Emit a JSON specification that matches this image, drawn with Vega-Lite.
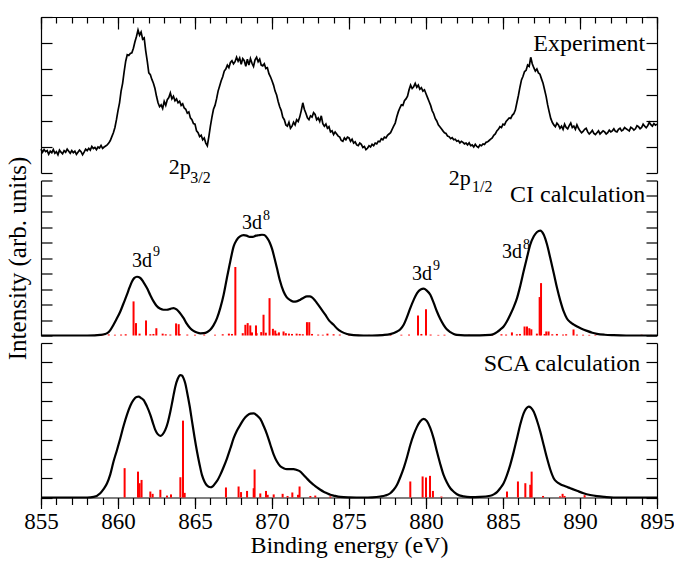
{
  "$schema": "https://vega.github.io/schema/vega-lite/v6.json",
  "background": "white",
  "padding": {"left": 5, "top": 16, "right": 5, "bottom": 2},
  "config": {
    "font": "Liberation Serif",
    "view": {"stroke": null},
    "axis": {"grid": false, "domainColor": "#000", "tickColor": "#000", "domainWidth": 1.2, "tickWidth": 1.2, "labelColor": "#000", "titleColor": "#000", "labelFont": "Liberation Serif", "titleFont": "Liberation Serif", "titleFontWeight": "normal"},
    "text": {"font": "Liberation Serif", "color": "#000"}
  },
  "bounds": "flush",
  "spacing": 7.5,
  "datasets": {
    "exp": [
      {"E":855.0,"I":0.92},{"E":855.1,"I":0.80},{"E":855.2,"I":0.90},{"E":855.3,"I":0.82},{"E":855.4,"I":0.86},
      {"E":855.5,"I":0.72},{"E":855.6,"I":0.84},{"E":855.7,"I":0.78},{"E":855.8,"I":0.90},{"E":855.9,"I":0.76},
      {"E":856.0,"I":0.82},{"E":856.1,"I":0.70},{"E":856.2,"I":0.88},{"E":856.3,"I":0.80},{"E":856.4,"I":0.74},
      {"E":856.5,"I":0.86},{"E":856.6,"I":0.80},{"E":856.7,"I":0.92},{"E":856.8,"I":0.84},{"E":856.9,"I":0.76},
      {"E":857.0,"I":0.86},{"E":857.1,"I":0.78},{"E":857.2,"I":0.84},{"E":857.3,"I":0.72},{"E":857.4,"I":0.80},
      {"E":857.5,"I":0.88},{"E":857.6,"I":0.82},{"E":857.7,"I":0.70},{"E":857.8,"I":0.80},{"E":857.9,"I":0.92},
      {"E":858.0,"I":0.86},{"E":858.1,"I":0.95},{"E":858.2,"I":0.88},{"E":858.3,"I":1.02},{"E":858.4,"I":0.94},
      {"E":858.5,"I":0.98},{"E":858.6,"I":0.90},{"E":858.7,"I":1.00},{"E":858.8,"I":0.96},{"E":858.9,"I":1.06},
      {"E":859.0,"I":0.95},{"E":859.1,"I":1.00},{"E":859.2,"I":1.04},{"E":859.3,"I":1.08},{"E":859.4,"I":1.15},
      {"E":859.5,"I":1.25},{"E":859.6,"I":1.40},{"E":859.7,"I":1.55},{"E":859.8,"I":1.75},{"E":859.9,"I":2.05},
      {"E":860.0,"I":2.40},{"E":860.1,"I":2.70},{"E":860.2,"I":3.15},{"E":860.3,"I":3.45},{"E":860.4,"I":3.90},
      {"E":860.5,"I":4.30},{"E":860.6,"I":4.55},{"E":860.7,"I":4.52},{"E":860.8,"I":4.60},{"E":860.9,"I":4.62},
      {"E":861.0,"I":4.80},{"E":861.1,"I":5.05},{"E":861.2,"I":5.25},{"E":861.3,"I":5.50},{"E":861.4,"I":5.30},
      {"E":861.5,"I":5.42},{"E":861.6,"I":5.15},{"E":861.7,"I":5.20},{"E":861.8,"I":4.70},{"E":861.9,"I":4.30},
      {"E":862.0,"I":3.85},{"E":862.1,"I":3.78},{"E":862.2,"I":3.60},{"E":862.3,"I":3.45},{"E":862.4,"I":3.25},
      {"E":862.5,"I":2.95},{"E":862.6,"I":2.70},{"E":862.7,"I":2.55},{"E":862.8,"I":2.62},{"E":862.9,"I":2.48},
      {"E":863.0,"I":2.75},{"E":863.1,"I":2.60},{"E":863.2,"I":2.82},{"E":863.3,"I":2.90},{"E":863.4,"I":3.08},
      {"E":863.5,"I":2.85},{"E":863.6,"I":2.95},{"E":863.7,"I":2.78},{"E":863.8,"I":2.85},{"E":863.9,"I":2.70},
      {"E":864.0,"I":2.76},{"E":864.1,"I":2.60},{"E":864.2,"I":2.66},{"E":864.3,"I":2.50},{"E":864.4,"I":2.45},
      {"E":864.5,"I":2.30},{"E":864.6,"I":2.35},{"E":864.7,"I":2.12},{"E":864.8,"I":2.05},{"E":864.9,"I":1.90},
      {"E":865.0,"I":1.88},{"E":865.1,"I":1.62},{"E":865.2,"I":1.55},{"E":865.3,"I":1.40},{"E":865.4,"I":1.45},
      {"E":865.5,"I":1.28},{"E":865.6,"I":1.35},{"E":865.7,"I":1.15},{"E":865.8,"I":1.05},{"E":865.9,"I":1.40},
      {"E":866.0,"I":1.80},{"E":866.1,"I":2.15},{"E":866.2,"I":2.45},{"E":866.3,"I":2.60},{"E":866.4,"I":2.85},
      {"E":866.5,"I":3.15},{"E":866.6,"I":3.35},{"E":866.7,"I":3.55},{"E":866.8,"I":3.70},{"E":866.9,"I":3.92},
      {"E":867.0,"I":4.00},{"E":867.1,"I":4.15},{"E":867.2,"I":4.05},{"E":867.3,"I":4.25},{"E":867.4,"I":4.32},
      {"E":867.5,"I":4.20},{"E":867.6,"I":4.28},{"E":867.7,"I":4.45},{"E":867.8,"I":4.30},{"E":867.9,"I":4.42},
      {"E":868.0,"I":4.18},{"E":868.1,"I":4.40},{"E":868.2,"I":4.32},{"E":868.3,"I":4.10},{"E":868.4,"I":4.38},
      {"E":868.5,"I":4.15},{"E":868.6,"I":4.40},{"E":868.7,"I":4.22},{"E":868.8,"I":4.10},{"E":868.9,"I":4.35},
      {"E":869.0,"I":4.45},{"E":869.1,"I":4.28},{"E":869.2,"I":4.38},{"E":869.3,"I":4.15},{"E":869.4,"I":4.12},
      {"E":869.5,"I":4.20},{"E":869.6,"I":4.02},{"E":869.7,"I":4.05},{"E":869.8,"I":3.82},{"E":869.9,"I":3.70},
      {"E":870.0,"I":3.55},{"E":870.1,"I":3.38},{"E":870.2,"I":3.15},{"E":870.3,"I":3.00},{"E":870.4,"I":2.75},
      {"E":870.5,"I":2.55},{"E":870.6,"I":2.40},{"E":870.7,"I":2.15},{"E":870.8,"I":2.05},{"E":870.9,"I":1.85},
      {"E":871.0,"I":1.80},{"E":871.1,"I":1.95},{"E":871.2,"I":1.72},{"E":871.3,"I":1.80},{"E":871.4,"I":1.95},
      {"E":871.5,"I":1.85},{"E":871.6,"I":2.05},{"E":871.7,"I":1.98},{"E":871.8,"I":2.15},{"E":871.9,"I":2.40},
      {"E":872.0,"I":2.70},{"E":872.1,"I":2.45},{"E":872.2,"I":2.30},{"E":872.3,"I":2.12},{"E":872.4,"I":2.05},
      {"E":872.5,"I":2.20},{"E":872.6,"I":2.15},{"E":872.7,"I":2.32},{"E":872.8,"I":2.25},{"E":872.9,"I":2.05},
      {"E":873.0,"I":2.12},{"E":873.1,"I":1.98},{"E":873.2,"I":2.20},{"E":873.3,"I":1.90},{"E":873.4,"I":1.80},
      {"E":873.5,"I":1.88},{"E":873.6,"I":1.72},{"E":873.7,"I":1.78},{"E":873.8,"I":1.58},{"E":873.9,"I":1.62},
      {"E":874.0,"I":1.48},{"E":874.1,"I":1.58},{"E":874.2,"I":1.50},{"E":874.3,"I":1.42},{"E":874.4,"I":1.38},
      {"E":874.5,"I":1.25},{"E":874.6,"I":1.22},{"E":874.7,"I":1.35},{"E":874.8,"I":1.28},{"E":874.9,"I":1.38},
      {"E":875.0,"I":1.35},{"E":875.1,"I":1.22},{"E":875.2,"I":1.30},{"E":875.3,"I":1.15},{"E":875.4,"I":1.20},
      {"E":875.5,"I":1.08},{"E":875.6,"I":1.05},{"E":875.7,"I":1.15},{"E":875.8,"I":1.10},{"E":875.9,"I":0.98},
      {"E":876.0,"I":1.02},{"E":876.1,"I":0.90},{"E":876.2,"I":0.95},{"E":876.3,"I":1.05},{"E":876.4,"I":1.00},
      {"E":876.5,"I":1.10},{"E":876.6,"I":1.05},{"E":876.7,"I":1.15},{"E":876.8,"I":1.12},{"E":876.9,"I":1.22},
      {"E":877.0,"I":1.20},{"E":877.1,"I":1.32},{"E":877.2,"I":1.28},{"E":877.3,"I":1.38},{"E":877.4,"I":1.35},
      {"E":877.5,"I":1.45},{"E":877.6,"I":1.50},{"E":877.7,"I":1.55},{"E":877.8,"I":1.68},{"E":877.9,"I":1.80},
      {"E":878.0,"I":1.92},{"E":878.1,"I":2.15},{"E":878.2,"I":2.35},{"E":878.3,"I":2.50},{"E":878.4,"I":2.62},
      {"E":878.5,"I":2.60},{"E":878.6,"I":2.78},{"E":878.7,"I":2.85},{"E":878.8,"I":2.95},{"E":878.9,"I":3.20},
      {"E":879.0,"I":3.38},{"E":879.1,"I":3.25},{"E":879.2,"I":3.32},{"E":879.3,"I":3.45},{"E":879.4,"I":3.30},
      {"E":879.5,"I":3.38},{"E":879.6,"I":3.22},{"E":879.7,"I":3.28},{"E":879.8,"I":3.15},{"E":879.9,"I":3.20},
      {"E":880.0,"I":3.05},{"E":880.1,"I":2.90},{"E":880.2,"I":2.75},{"E":880.3,"I":2.60},{"E":880.4,"I":2.40},
      {"E":880.5,"I":2.28},{"E":880.6,"I":2.10},{"E":880.7,"I":2.00},{"E":880.8,"I":1.85},{"E":880.9,"I":1.78},
      {"E":881.0,"I":1.70},{"E":881.1,"I":1.62},{"E":881.2,"I":1.55},{"E":881.3,"I":1.52},{"E":881.4,"I":1.42},
      {"E":881.5,"I":1.40},{"E":881.6,"I":1.32},{"E":881.7,"I":1.36},{"E":881.8,"I":1.28},{"E":881.9,"I":1.30},
      {"E":882.0,"I":1.22},{"E":882.1,"I":1.25},{"E":882.2,"I":1.16},{"E":882.3,"I":1.22},{"E":882.4,"I":1.18},
      {"E":882.5,"I":1.12},{"E":882.6,"I":1.15},{"E":882.7,"I":1.08},{"E":882.8,"I":1.16},{"E":882.9,"I":1.05},
      {"E":883.0,"I":1.08},{"E":883.1,"I":1.00},{"E":883.2,"I":1.10},{"E":883.3,"I":1.02},{"E":883.4,"I":0.98},
      {"E":883.5,"I":1.08},{"E":883.6,"I":1.05},{"E":883.7,"I":1.12},{"E":883.8,"I":1.10},{"E":883.9,"I":1.18},
      {"E":884.0,"I":1.20},{"E":884.1,"I":1.25},{"E":884.2,"I":1.30},{"E":884.3,"I":1.35},{"E":884.4,"I":1.45},
      {"E":884.5,"I":1.50},{"E":884.6,"I":1.62},{"E":884.7,"I":1.68},{"E":884.8,"I":1.78},{"E":884.9,"I":1.75},
      {"E":885.0,"I":1.88},{"E":885.1,"I":1.85},{"E":885.2,"I":1.98},{"E":885.3,"I":2.05},{"E":885.4,"I":2.12},
      {"E":885.5,"I":2.10},{"E":885.6,"I":2.22},{"E":885.7,"I":2.28},{"E":885.8,"I":2.42},{"E":885.9,"I":2.70},
      {"E":886.0,"I":2.98},{"E":886.1,"I":3.30},{"E":886.2,"I":3.58},{"E":886.3,"I":3.72},{"E":886.4,"I":3.90},
      {"E":886.5,"I":3.95},{"E":886.6,"I":4.15},{"E":886.7,"I":4.10},{"E":886.8,"I":4.45},{"E":886.9,"I":4.20},
      {"E":887.0,"I":4.05},{"E":887.1,"I":3.92},{"E":887.2,"I":4.00},{"E":887.3,"I":3.85},{"E":887.4,"I":3.80},
      {"E":887.5,"I":3.62},{"E":887.6,"I":3.45},{"E":887.7,"I":3.20},{"E":887.8,"I":2.95},{"E":887.9,"I":2.62},
      {"E":888.0,"I":2.35},{"E":888.1,"I":2.10},{"E":888.2,"I":1.95},{"E":888.3,"I":1.85},{"E":888.4,"I":1.78},
      {"E":888.5,"I":1.92},{"E":888.6,"I":1.85},{"E":888.7,"I":1.72},{"E":888.8,"I":1.80},{"E":888.9,"I":1.68},
      {"E":889.0,"I":1.88},{"E":889.1,"I":1.75},{"E":889.2,"I":1.70},{"E":889.3,"I":1.82},{"E":889.4,"I":1.92},
      {"E":889.5,"I":1.75},{"E":889.6,"I":1.80},{"E":889.7,"I":1.68},{"E":889.8,"I":1.85},{"E":889.9,"I":1.72},
      {"E":890.0,"I":1.62},{"E":890.1,"I":1.55},{"E":890.2,"I":1.60},{"E":890.3,"I":1.68},{"E":890.4,"I":1.72},
      {"E":890.5,"I":1.58},{"E":890.6,"I":1.50},{"E":890.7,"I":1.56},{"E":890.8,"I":1.64},{"E":890.9,"I":1.52},
      {"E":891.0,"I":1.48},{"E":891.1,"I":1.55},{"E":891.2,"I":1.62},{"E":891.3,"I":1.50},{"E":891.4,"I":1.56},
      {"E":891.5,"I":1.62},{"E":891.6,"I":1.58},{"E":891.7,"I":1.50},{"E":891.8,"I":1.55},{"E":891.9,"I":1.65},
      {"E":892.0,"I":1.58},{"E":892.1,"I":1.62},{"E":892.2,"I":1.70},{"E":892.3,"I":1.60},{"E":892.4,"I":1.58},
      {"E":892.5,"I":1.68},{"E":892.6,"I":1.72},{"E":892.7,"I":1.62},{"E":892.8,"I":1.66},{"E":892.9,"I":1.75},
      {"E":893.0,"I":1.70},{"E":893.1,"I":1.66},{"E":893.2,"I":1.62},{"E":893.3,"I":1.76},{"E":893.4,"I":1.72},
      {"E":893.5,"I":1.65},{"E":893.6,"I":1.70},{"E":893.7,"I":1.82},{"E":893.8,"I":1.78},{"E":893.9,"I":1.70},
      {"E":894.0,"I":1.75},{"E":894.1,"I":1.88},{"E":894.2,"I":1.80},{"E":894.3,"I":1.74},{"E":894.4,"I":1.82},
      {"E":894.5,"I":1.95},{"E":894.6,"I":1.86},{"E":894.7,"I":1.80},{"E":894.8,"I":1.90},{"E":894.9,"I":1.84},
      {"E":895.0,"I":1.88}
    ],
    "ci": [
      {"E":855.0,"I":0},{"E":856.0,"I":0},{"E":857.0,"I":0},{"E":858.0,"I":0},{"E":858.5,"I":0.01},
      {"E":858.85,"I":0.04},{"E":859.1,"I":0.08},{"E":859.3,"I":0.15},{"E":859.5,"I":0.35},{"E":859.7,"I":0.68},
      {"E":859.9,"I":1.05},{"E":860.15,"I":1.55},{"E":860.35,"I":2.05},{"E":860.58,"I":2.63},{"E":860.75,"I":3.10},
      {"E":860.91,"I":3.49},{"E":861.05,"I":3.70},{"E":861.23,"I":3.79},{"E":861.45,"I":3.71},{"E":861.65,"I":3.45},
      {"E":861.88,"I":3.06},{"E":862.1,"I":2.60},{"E":862.31,"I":2.20},{"E":862.5,"I":1.92},{"E":862.75,"I":1.72},
      {"E":862.95,"I":1.66},{"E":863.18,"I":1.66},{"E":863.4,"I":1.72},{"E":863.61,"I":1.77},{"E":863.8,"I":1.68},
      {"E":863.94,"I":1.55},{"E":864.1,"I":1.35},{"E":864.26,"I":1.12},{"E":864.45,"I":0.78},{"E":864.69,"I":0.47},
      {"E":864.9,"I":0.30},{"E":865.13,"I":0.19},{"E":865.35,"I":0.14},{"E":865.56,"I":0.15},{"E":865.8,"I":0.23},
      {"E":865.99,"I":0.37},{"E":866.2,"I":0.65},{"E":866.43,"I":1.12},{"E":866.65,"I":1.80},{"E":866.86,"I":2.63},
      {"E":867.05,"I":3.60},{"E":867.29,"I":4.78},{"E":867.51,"I":5.75},{"E":867.7,"I":6.15},{"E":867.9,"I":6.38},
      {"E":868.16,"I":6.47},{"E":868.35,"I":6.44},{"E":868.55,"I":6.36},{"E":868.75,"I":6.36},{"E":868.95,"I":6.44},
      {"E":869.13,"I":6.47},{"E":869.35,"I":6.50},{"E":869.5,"I":6.48},{"E":869.68,"I":6.30},{"E":869.85,"I":6.00},
      {"E":870.0,"I":5.60},{"E":870.16,"I":5.00},{"E":870.32,"I":4.35},{"E":870.5,"I":3.60},{"E":870.75,"I":2.84},
      {"E":870.95,"I":2.48},{"E":871.19,"I":2.28},{"E":871.4,"I":2.18},{"E":871.6,"I":2.20},{"E":871.84,"I":2.31},
      {"E":872.05,"I":2.44},{"E":872.27,"I":2.52},{"E":872.45,"I":2.52},{"E":872.6,"I":2.46},{"E":872.8,"I":2.25},
      {"E":872.92,"I":2.09},{"E":873.2,"I":1.70},{"E":873.46,"I":1.34},{"E":873.7,"I":0.98},{"E":874.0,"I":0.69},
      {"E":874.22,"I":0.45},{"E":874.5,"I":0.25},{"E":874.87,"I":0.10},{"E":875.3,"I":0.03},{"E":875.95,"I":0},
      {"E":876.5,"I":0},{"E":877.2,"I":0.03},{"E":877.68,"I":0.09},{"E":878.12,"I":0.26},{"E":878.35,"I":0.42},
      {"E":878.55,"I":0.69},{"E":878.75,"I":1.15},{"E":878.98,"I":1.77},{"E":879.2,"I":2.30},{"E":879.42,"I":2.74},
      {"E":879.65,"I":2.97},{"E":879.85,"I":3.02},{"E":880.05,"I":2.90},{"E":880.28,"I":2.63},{"E":880.5,"I":2.10},
      {"E":880.71,"I":1.55},{"E":880.92,"I":1.08},{"E":881.14,"I":0.69},{"E":881.35,"I":0.40},{"E":881.58,"I":0.22},
      {"E":881.8,"I":0.10},{"E":882.01,"I":0.04},{"E":882.5,"I":0.01},{"E":883.5,"I":0.01},{"E":884.18,"I":0.04},
      {"E":884.4,"I":0.10},{"E":884.61,"I":0.22},{"E":884.82,"I":0.38},{"E":885.04,"I":0.58},{"E":885.25,"I":0.90},
      {"E":885.47,"I":1.34},{"E":885.7,"I":1.85},{"E":885.91,"I":2.41},{"E":886.12,"I":3.20},{"E":886.34,"I":4.14},
      {"E":886.55,"I":5.00},{"E":886.77,"I":5.86},{"E":887.0,"I":6.40},{"E":887.21,"I":6.68},{"E":887.42,"I":6.77},
      {"E":887.64,"I":6.51},{"E":887.85,"I":5.90},{"E":888.07,"I":5.00},{"E":888.3,"I":4.00},{"E":888.51,"I":3.06},
      {"E":888.72,"I":2.25},{"E":888.94,"I":1.55},{"E":889.15,"I":1.10},{"E":889.37,"I":0.86},{"E":889.6,"I":0.70},
      {"E":889.81,"I":0.58},{"E":890.1,"I":0.44},{"E":890.45,"I":0.30},{"E":890.8,"I":0.18},{"E":891.1,"I":0.11},
      {"E":891.6,"I":0.05},{"E":892.18,"I":0.02},{"E":893.0,"I":0},{"E":895.0,"I":0}
    ],
    "cis": [
      {"E":861.01,"h":2.20},{"E":861.17,"h":0.80},{"E":861.82,"h":0.97},{"E":862.49,"h":0.47},{"E":863.77,"h":0.78},
      {"E":863.94,"h":0.73},{"E":867.62,"h":4.42},{"E":868.27,"h":0.69},{"E":868.42,"h":0.80},{"E":868.59,"h":0.65},
      {"E":868.96,"h":0.65},{"E":869.30,"h":0.22},{"E":869.45,"h":1.34},{"E":869.84,"h":2.41},{"E":870.06,"h":0.43},
      {"E":870.21,"h":0.32},{"E":870.45,"h":0.20},{"E":870.75,"h":0.26},{"E":872.27,"h":0.86},{"E":872.42,"h":0.86},
      {"E":879.48,"h":1.29},{"E":880.00,"h":1.70},{"E":885.58,"h":0.20},{"E":886.40,"h":0.58},{"E":886.56,"h":0.58},
      {"E":886.71,"h":0.47},{"E":886.84,"h":0.40},{"E":887.38,"h":2.48},{"E":887.47,"h":3.38},{"E":887.81,"h":0.26},
      {"E":887.96,"h":0.26},{"E":889.58,"h":0.39},
      {"E":858.6,"h":0.06},{"E":859.0,"h":0.05},{"E":859.4,"h":0.07},{"E":859.8,"h":0.05},{"E":860.2,"h":0.06},
      {"E":860.5,"h":0.08},{"E":861.4,"h":0.12},{"E":862.1,"h":0.08},{"E":862.3,"h":0.10},{"E":862.9,"h":0.12},
      {"E":863.1,"h":0.08},{"E":863.4,"h":0.06},{"E":864.0,"h":0.10},{"E":864.5,"h":0.06},{"E":865.0,"h":0.05},
      {"E":865.6,"h":0.06},{"E":866.3,"h":0.05},{"E":866.8,"h":0.08},{"E":867.2,"h":0.12},{"E":867.4,"h":0.10},
      {"E":868.1,"h":0.15},{"E":868.7,"h":0.20},{"E":869.0,"h":0.15},{"E":869.6,"h":0.18},{"E":870.3,"h":0.12},
      {"E":870.9,"h":0.15},{"E":871.1,"h":0.12},{"E":871.3,"h":0.10},{"E":871.6,"h":0.12},{"E":871.8,"h":0.10},
      {"E":872.0,"h":0.08},{"E":872.6,"h":0.10},{"E":873.0,"h":0.06},{"E":873.3,"h":0.05},{"E":873.6,"h":0.12},
      {"E":874.0,"h":0.08},{"E":874.4,"h":0.06},{"E":875.0,"h":0.04},{"E":875.6,"h":0.05},{"E":876.3,"h":0.04},
      {"E":877.0,"h":0.05},{"E":877.7,"h":0.04},{"E":878.4,"h":0.05},{"E":878.9,"h":0.06},{"E":879.7,"h":0.10},
      {"E":880.3,"h":0.06},{"E":880.8,"h":0.04},{"E":881.2,"h":0.05},{"E":882.0,"h":0.04},{"E":882.8,"h":0.05},
      {"E":883.6,"h":0.04},{"E":884.3,"h":0.05},{"E":884.9,"h":0.08},{"E":885.2,"h":0.06},{"E":885.9,"h":0.08},
      {"E":886.1,"h":0.10},{"E":887.2,"h":0.12},{"E":887.7,"h":0.10},{"E":888.2,"h":0.08},{"E":888.5,"h":0.10},
      {"E":888.9,"h":0.06},{"E":889.1,"h":0.08},{"E":889.8,"h":0.06},{"E":890.2,"h":0.05},{"E":890.6,"h":0.04},
      {"E":891.0,"h":0.05},{"E":892.5,"h":0.04},{"E":894.0,"h":0.05},{"E":894.6,"h":0.04}
    ],
    "sca": [
      {"E":855.0,"I":0},{"E":857.0,"I":0},{"E":858.0,"I":0},{"E":858.42,"I":0.03},{"E":858.85,"I":0.22},
      {"E":859.05,"I":0.42},{"E":859.29,"I":0.74},{"E":859.5,"I":1.20},{"E":859.71,"I":1.86},{"E":859.93,"I":2.45},
      {"E":860.15,"I":3.07},{"E":860.36,"I":3.70},{"E":860.58,"I":4.28},{"E":860.8,"I":4.75},{"E":861.01,"I":5.05},
      {"E":861.2,"I":5.20},{"E":861.34,"I":5.22},{"E":861.5,"I":5.15},{"E":861.66,"I":5.05},{"E":861.88,"I":4.72},
      {"E":862.1,"I":4.28},{"E":862.26,"I":3.88},{"E":862.42,"I":3.50},{"E":862.58,"I":3.28},{"E":862.75,"I":3.19},
      {"E":862.9,"I":3.27},{"E":863.07,"I":3.50},{"E":863.24,"I":3.90},{"E":863.4,"I":4.45},{"E":863.56,"I":5.10},
      {"E":863.72,"I":5.74},{"E":863.88,"I":6.15},{"E":864.05,"I":6.34},{"E":864.15,"I":6.32},{"E":864.26,"I":6.17},
      {"E":864.37,"I":5.90},{"E":864.48,"I":5.48},{"E":864.65,"I":4.75},{"E":864.81,"I":3.93},{"E":864.97,"I":3.12},
      {"E":865.13,"I":2.38},{"E":865.3,"I":1.70},{"E":865.45,"I":1.17},{"E":865.62,"I":0.82},{"E":865.78,"I":0.62},
      {"E":865.99,"I":0.53},{"E":866.15,"I":0.58},{"E":866.32,"I":0.74},{"E":866.48,"I":0.92},{"E":866.64,"I":1.17},
      {"E":866.86,"I":1.58},{"E":867.08,"I":2.03},{"E":867.3,"I":2.55},{"E":867.51,"I":3.07},{"E":867.72,"I":3.46},
      {"E":867.94,"I":3.76},{"E":868.16,"I":4.05},{"E":868.38,"I":4.24},{"E":868.6,"I":4.34},{"E":868.81,"I":4.36},
      {"E":869.02,"I":4.25},{"E":869.24,"I":4.07},{"E":869.46,"I":3.70},{"E":869.68,"I":3.26},{"E":869.9,"I":2.72},
      {"E":870.11,"I":2.22},{"E":870.32,"I":1.86},{"E":870.54,"I":1.62},{"E":870.75,"I":1.52},{"E":870.97,"I":1.47},
      {"E":871.2,"I":1.47},{"E":871.4,"I":1.47},{"E":871.62,"I":1.42},{"E":871.84,"I":1.34},{"E":872.05,"I":1.17},
      {"E":872.27,"I":0.98},{"E":872.48,"I":0.81},{"E":872.7,"I":0.66},{"E":872.92,"I":0.52},{"E":873.14,"I":0.40},
      {"E":873.35,"I":0.30},{"E":873.57,"I":0.22},{"E":873.79,"I":0.14},{"E":874.0,"I":0.10},{"E":874.44,"I":0.03},
      {"E":875.0,"I":0.01},{"E":875.95,"I":0},{"E":876.5,"I":0.01},{"E":877.03,"I":0.05},{"E":877.35,"I":0.10},
      {"E":877.68,"I":0.22},{"E":877.9,"I":0.40},{"E":878.12,"I":0.66},{"E":878.33,"I":1.05},{"E":878.55,"I":1.52},
      {"E":878.77,"I":2.10},{"E":878.98,"I":2.72},{"E":879.2,"I":3.25},{"E":879.42,"I":3.67},{"E":879.63,"I":3.95},
      {"E":879.85,"I":4.07},{"E":880.06,"I":3.95},{"E":880.28,"I":3.59},{"E":880.5,"I":3.05},{"E":880.71,"I":2.38},
      {"E":880.92,"I":1.75},{"E":881.14,"I":1.17},{"E":881.36,"I":0.78},{"E":881.58,"I":0.48},{"E":881.8,"I":0.30},
      {"E":882.01,"I":0.17},{"E":882.44,"I":0.06},{"E":882.87,"I":0.02},{"E":883.5,"I":0.03},{"E":884.18,"I":0.09},
      {"E":884.4,"I":0.16},{"E":884.61,"I":0.28},{"E":884.82,"I":0.48},{"E":885.04,"I":0.74},{"E":885.25,"I":1.15},
      {"E":885.47,"I":1.69},{"E":885.69,"I":2.35},{"E":885.91,"I":3.07},{"E":886.12,"I":3.78},{"E":886.34,"I":4.36},
      {"E":886.5,"I":4.60},{"E":886.66,"I":4.71},{"E":886.82,"I":4.65},{"E":886.99,"I":4.45},{"E":887.2,"I":4.00},
      {"E":887.42,"I":3.41},{"E":887.64,"I":2.72},{"E":887.86,"I":2.03},{"E":888.07,"I":1.45},{"E":888.29,"I":1.00},
      {"E":888.5,"I":0.80},{"E":888.72,"I":0.69},{"E":889.04,"I":0.58},{"E":889.37,"I":0.48},{"E":889.8,"I":0.35},
      {"E":890.23,"I":0.22},{"E":890.66,"I":0.13},{"E":891.1,"I":0.07},{"E":891.6,"I":0.03},{"E":892.18,"I":0},
      {"E":895.0,"I":0}
    ],
    "scas": [
      {"E":860.43,"h":1.52},{"E":861.30,"h":1.34},{"E":861.40,"h":0.74},{"E":861.53,"h":0.91},{"E":862.10,"h":0.31},
      {"E":862.25,"h":0.19},{"E":862.75,"h":0.40},{"E":863.18,"h":0.10},{"E":863.44,"h":0.16},{"E":864.05,"h":1.05},
      {"E":864.22,"h":3.98},{"E":864.33,"h":0.24},{"E":867.01,"h":0.52},{"E":867.83,"h":0.57},{"E":867.99,"h":0.28},
      {"E":868.38,"h":0.34},{"E":868.81,"h":0.48},{"E":868.87,"h":1.45},{"E":869.24,"h":0.21},{"E":869.61,"h":0.34},
      {"E":869.72,"h":0.14},{"E":870.11,"h":0.16},{"E":870.69,"h":0.19},{"E":871.01,"h":0.08},{"E":871.32,"h":0.26},
      {"E":871.69,"h":0.14},{"E":871.79,"h":0.57},{"E":872.49,"h":0.08},{"E":872.81,"h":0.10},{"E":873.79,"h":0.06},
      {"E":874.3,"h":0.04},{"E":878.98,"h":0.83},{"E":879.78,"h":1.09},{"E":880.00,"h":1.03},{"E":880.26,"h":1.12},
      {"E":880.45,"h":0.34},{"E":881.0,"h":0.05},{"E":885.26,"h":0.31},{"E":885.97,"h":0.83},{"E":886.45,"h":0.74},
      {"E":886.77,"h":0.66},{"E":886.86,"h":1.34},{"E":887.6,"h":0.08},{"E":888.7,"h":0.06},{"E":888.87,"h":0.19},
      {"E":889.0,"h":0.08},{"E":890.3,"h":0.12}
    ]
  },
  "vconcat": [
    {
      "width": 616,
      "height": 156,
      "layer": [
        {
          "data": {"name": "exp"},
          "mark": {"type": "line", "color": "#000", "strokeWidth": 1.7},
          "encoding": {
            "x": {"field": "E", "type": "quantitative", "scale": {"domain": [855, 895], "nice": false, "zero": false},
              "axis": {"orient": "top", "values": [855, 860, 865, 870, 875, 880, 885, 890, 895], "tickSize": -12, "labels": false, "title": null}},
            "y": {"field": "I", "type": "quantitative", "scale": {"domain": [0, 6], "nice": false, "zero": false},
              "axis": {"orient": "left", "values": [0, 1, 2, 3, 4, 5, 6], "tickSize": -11, "labels": false, "title": null}}
          }
        },
        {
          "data": {"values": [{"E": 894.24, "y": 4.69, "t": "Experiment"}]},
          "mark": {"type": "text", "align": "right", "baseline": "alphabetic", "fontSize": 24},
          "encoding": {
            "x": {"field": "E", "type": "quantitative", "scale": {"domain": [855, 895], "nice": false, "zero": false},
              "axis": {"orient": "top", "values": [855,856,857,858,859,860,861,862,863,864,865,866,867,868,869,870,871,872,873,874,875,876,877,878,879,880,881,882,883,884,885,886,887,888,889,890,891,892,893,894,895], "tickSize": -6, "labels": false, "domain": false, "title": null}},
            "y": {"field": "y", "type": "quantitative", "scale": {"domain": [0, 6], "nice": false, "zero": false},
              "axis": {"orient": "right", "values": [0, 1, 2, 3, 4, 5, 6], "tickSize": -11, "labels": false, "title": null}},
            "text": {"field": "t"}
          }
        },
        {
          "data": {"values": [{"E": 863.29, "y": -0.04, "t": "2p"}, {"E": 881.47, "y": -0.46, "t": "2p"}]},
          "mark": {"type": "text", "align": "left", "baseline": "alphabetic", "fontSize": 22},
          "encoding": {
            "x": {"field": "E", "type": "quantitative", "axis": null},
            "y": {"field": "y", "type": "quantitative", "axis": null},
            "text": {"field": "t"}
          }
        },
        {
          "data": {"values": [{"E": 864.69, "y": -0.37, "t": "3/2"}, {"E": 882.99, "y": -0.73, "t": "1/2"}]},
          "mark": {"type": "text", "align": "left", "baseline": "alphabetic", "fontSize": 16},
          "encoding": {
            "x": {"field": "E", "type": "quantitative", "axis": null},
            "y": {"field": "y", "type": "quantitative", "axis": null},
            "text": {"field": "t"}
          }
        }
      ],
      "resolve": {"axis": {"x": "independent", "y": "independent"}}
    },
    {
      "width": 616,
      "height": 155,
      "layer": [
        {
          "data": {"name": "cis"},
          "mark": {"type": "rule", "color": "#ff0000", "strokeWidth": 2},
          "encoding": {
            "x": {"field": "E", "type": "quantitative", "scale": {"domain": [855, 895], "nice": false, "zero": false}, "axis": null},
            "y": {"field": "h", "type": "quantitative", "scale": {"domain": [0, 10], "nice": false, "zero": false}, "axis": null},
            "y2": {"datum": 0}
          }
        },
        {
          "data": {"name": "ci"},
          "mark": {"type": "line", "color": "#000", "strokeWidth": 2.2, "interpolate": "monotone"},
          "encoding": {
            "x": {"field": "E", "type": "quantitative", "axis": null},
            "y": {"field": "I", "type": "quantitative",
              "axis": {"orient": "left", "values": [0,1,2,3,4,5,6,7,8,9,10], "tickSize": -11, "labels": false, "title": "Intensity (arb. units)", "titleFontSize": 25, "titlePadding": 10}}
          }
        },
        {
          "data": {"values": [{"E": 894.24, "y": 8.6, "t": "CI calculation"}]},
          "mark": {"type": "text", "align": "right", "baseline": "alphabetic", "fontSize": 24},
          "encoding": {
            "x": {"field": "E", "type": "quantitative", "axis": null},
            "y": {"field": "y", "type": "quantitative",
              "axis": {"orient": "right", "values": [0,1,2,3,4,5,6,7,8,9,10], "tickSize": -11, "labels": false, "title": null}},
            "text": {"field": "t"}
          }
        },
        {
          "data": {"values": [{"E": 860.91, "y": 4.41, "t": "3d"}, {"E": 868.05, "y": 6.87, "t": "3d"}, {"E": 879.09, "y": 3.60, "t": "3d"}, {"E": 884.94, "y": 5.0, "t": "3d"}]},
          "mark": {"type": "text", "align": "left", "baseline": "alphabetic", "fontSize": 20},
          "encoding": {
            "x": {"field": "E", "type": "quantitative", "axis": null},
            "y": {"field": "y", "type": "quantitative", "axis": null},
            "text": {"field": "t"}
          }
        },
        {
          "data": {"values": [{"E": 862.27, "y": 5.11, "t": "9"}, {"E": 869.42, "y": 7.43, "t": "8"}, {"E": 880.45, "y": 4.25, "t": "9"}, {"E": 886.30, "y": 5.60, "t": "8"}]},
          "mark": {"type": "text", "align": "left", "baseline": "alphabetic", "fontSize": 14},
          "encoding": {
            "x": {"field": "E", "type": "quantitative", "axis": null},
            "y": {"field": "y", "type": "quantitative", "axis": null},
            "text": {"field": "t"}
          }
        }
      ],
      "resolve": {"axis": {"x": "independent", "y": "independent"}}
    },
    {
      "width": 616,
      "height": 154.5,
      "layer": [
        {
          "data": {"name": "scas"},
          "mark": {"type": "rule", "color": "#ff0000", "strokeWidth": 2},
          "encoding": {
            "x": {"field": "E", "type": "quantitative", "scale": {"domain": [855, 895], "nice": false, "zero": false}, "axis": null},
            "y": {"field": "h", "type": "quantitative", "scale": {"domain": [0, 8], "nice": false, "zero": false}, "axis": null},
            "y2": {"datum": 0}
          }
        },
        {
          "data": {"name": "sca"},
          "mark": {"type": "line", "color": "#000", "strokeWidth": 2.2, "interpolate": "monotone"},
          "encoding": {
            "x": {"field": "E", "type": "quantitative",
              "axis": {"orient": "bottom", "values": [855, 860, 865, 870, 875, 880, 885, 890, 895], "tickSize": 11, "labelFontSize": 23, "labelPadding": 2, "labelFlush": false, "labelOverlap": false, "format": "d", "title": "Binding energy (eV)", "titleFontSize": 24, "titlePadding": 0}},
            "y": {"field": "I", "type": "quantitative",
              "axis": {"orient": "left", "values": [0,1,2,3,4,5,6,7,8], "tickSize": -11, "labels": false, "title": null}}
          }
        },
        {
          "data": {"values": [{"E": 893.92, "y": 6.53, "t": "SCA calculation"}]},
          "mark": {"type": "text", "align": "right", "baseline": "alphabetic", "fontSize": 24},
          "encoding": {
            "x": {"field": "E", "type": "quantitative",
              "axis": {"orient": "bottom", "values": [855,856,857,858,859,860,861,862,863,864,865,866,867,868,869,870,871,872,873,874,875,876,877,878,879,880,881,882,883,884,885,886,887,888,889,890,891,892,893,894,895], "tickSize": 7, "labels": false, "domain": false, "title": null}},
            "y": {"field": "y", "type": "quantitative",
              "axis": {"orient": "right", "values": [0,1,2,3,4,5,6,7,8], "tickSize": -11, "labels": false, "title": null}},
            "text": {"field": "t"}
          }
        }
      ],
      "resolve": {"axis": {"x": "independent", "y": "independent"}}
    }
  ]
}
